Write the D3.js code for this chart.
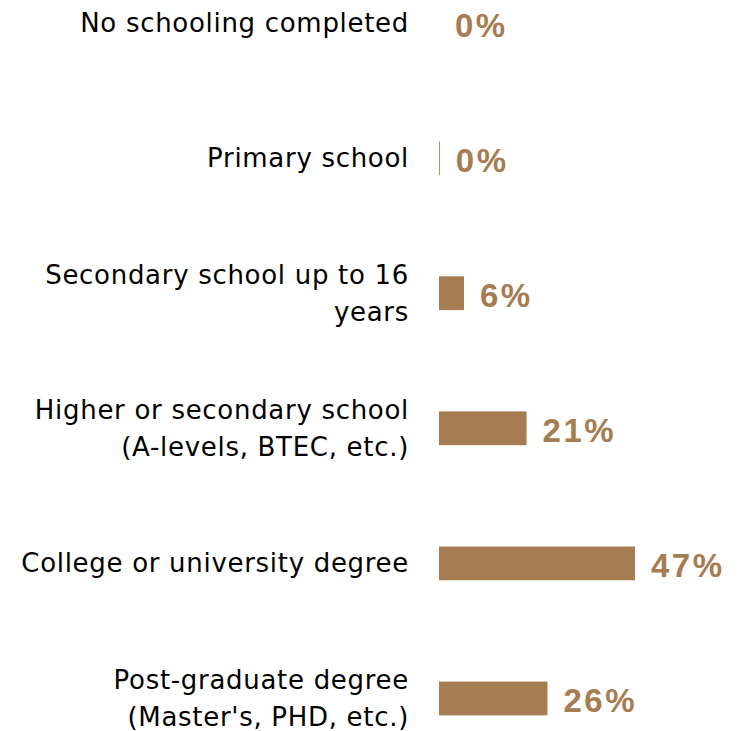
<!DOCTYPE html>
<html><head><meta charset="utf-8">
<script src="https://cdn.jsdelivr.net/npm/d3@7"></script>
<style>body{margin:0;background:#fff}</style>
</head><body>
<svg id="c" width="752" height="731"></svg>
<script>
const categories = [
  ["No schooling completed"],
  ["Primary school"],
  ["Secondary school up to 16", "years"],
  ["Higher or secondary school", "(A-levels, BTEC, etc.)"],
  ["College or university degree"],
  ["Post-graduate degree", "(Master's, PHD, etc.)"]
];
const values = [0, 0.2, 6, 21, 47, 26];
const valueLabels = ["0%", "0%", "6%", "21%", "47%", "26%"];

const color = "#a67c52";
const svg = d3.select("#c");
const x = d3.scaleLinear().domain([0, 47]).range([439, 635]);
const y = d3.scaleBand().domain(d3.range(categories.length)).range([-44.5, 766]).paddingInner(0.75).paddingOuter(0.375);
const bw = y.bandwidth();

const g = svg.append("g");
const rows = g.selectAll("g.row").data(values).join("g").attr("class","row");

rows.append("rect")
  .attr("x", x(0))
  .attr("y", (d,i) => y(i))
  .attr("width", d => x(d) - x(0))
  .attr("height", bw)
  .attr("fill", color);

rows.append("text")
  .attr("x", d => x(d) + 16)
  .attr("y", (d,i) => y(i) + bw/2 + 2)
  .attr("dy", "0.36em")
  .attr("font-family", "Liberation Sans, Arial, sans-serif")
  .attr("font-weight", "bold")
  .attr("font-size", 33)
  .attr("letter-spacing", 2.5)
  .attr("fill", color)
  .text((d,i) => valueLabels[i]);

const lh = 37;
rows.append("text")
  .attr("text-anchor", "end")
  .attr("font-family", "DejaVu Sans, sans-serif")
  .attr("font-size", 26)
  .attr("letter-spacing", 0.7)
  .attr("fill", "#000")
  .each(function(d,i){
    const lines = categories[i];
    const cy = y(i) + bw/2;
    const t = d3.select(this);
    lines.forEach((ln, k) => {
      t.append("tspan")
        .attr("x", 409)
        .attr("y", cy + (k - (lines.length-1)/2) * lh)
        .attr("dy", "0.35em")
        .text(ln);
    });
  });
</script>
</body></html>
